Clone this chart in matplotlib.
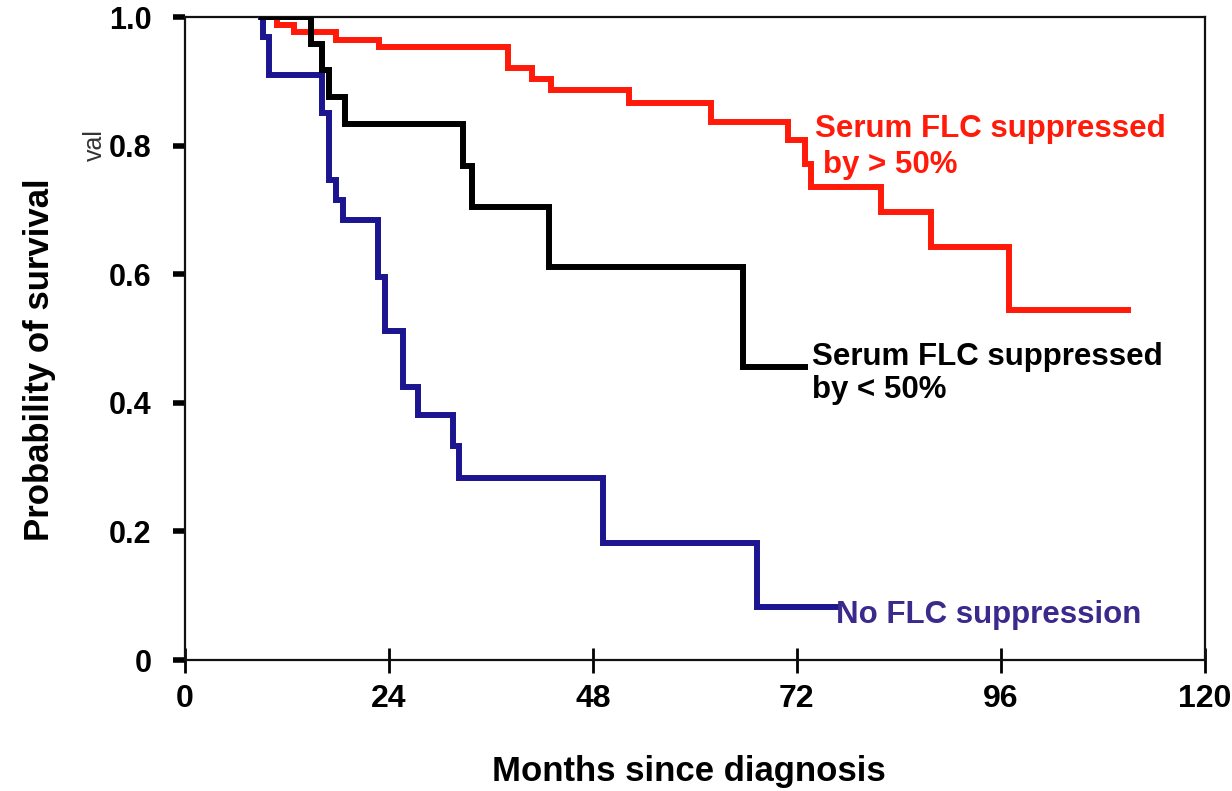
import matplotlib
matplotlib.use("Agg")
import matplotlib.pyplot as plt

plt.rcParams['font.family'] = ['Liberation Sans', 'DejaVu Sans']

# Kaplan-Meier survival estimates (months since diagnosis, probability)
red_t = [9.0, 10.8, 12.9, 17.8, 22.9, 38.0, 40.9, 43.1, 52.2, 61.9, 71.0, 72.9, 73.7, 81.9, 87.8, 96.9, 111.0]
red_s = [1.0, 0.988, 0.977, 0.964, 0.954, 0.921, 0.904, 0.886, 0.866, 0.837, 0.809, 0.772, 0.736, 0.697, 0.643, 0.544, 0.544]

black_t = [9.1, 14.9, 16.1, 17.0, 18.8, 32.7, 33.8, 42.9, 65.7, 73.0]
black_s = [1.0, 0.958, 0.917, 0.875, 0.833, 0.769, 0.705, 0.611, 0.456, 0.456]

blue_t = [9.0, 9.2, 9.9, 16.1, 17.0, 17.8, 18.6, 22.7, 23.5, 25.7, 27.4, 31.5, 32.3, 49.2, 67.3, 76.7]
blue_s = [1.0, 0.969, 0.91, 0.85, 0.746, 0.715, 0.684, 0.596, 0.511, 0.425, 0.381, 0.333, 0.283, 0.182, 0.083, 0.083]

x_ticks = [0, 24, 48, 72, 96, 120]
y_ticks = [0, 0.2, 0.4, 0.6, 0.8, 1.0]
y_tick_labels = ['0', '0.2', '0.4', '0.6', '0.8', '1.0']

RED = '#ff1a0a'
BLACK = '#000000'
BLUE = '#1c1590'
BLUE_TEXT = '#3b2a8c'

fig = plt.figure(figsize=(12.32, 7.91), dpi=100)
ax = fig.add_axes([0.150, 0.1656, 0.828, 0.8129])

lw = 4.3
ax.step(red_t, red_s, where='post', color=RED, lw=lw, solid_joinstyle='miter', zorder=3)
ax.step(blue_t, blue_s, where='post', color=BLUE, lw=lw, solid_joinstyle='miter', zorder=3)
ax.step(black_t, black_s, where='post', color=BLACK, lw=lw, solid_joinstyle='miter', zorder=4)

ax.set_xlim(0, 120)
ax.set_ylim(0, 1.0)

for sp in ax.spines.values():
    sp.set_linewidth(1.6)
    sp.set_color('#111111')

ax.set_xticks(x_ticks)
ax.set_xticklabels([str(v) for v in x_ticks], fontsize=23, fontweight='bold')
ax.set_yticks(y_ticks)
ax.set_yticklabels(y_tick_labels, fontsize=22, fontweight='bold')
ax.tick_params(axis='x', direction='inout', length=18, width=2, pad=8)
ax.tick_params(axis='y', direction='out', length=9, width=4, pad=15)

# Axis titles placed in figure coordinates
fig.text(689 / 1232, 1 - 771 / 791, 'Months since diagnosis', fontsize=25,
         fontweight='bold', ha='center', va='center')
fig.text(40 / 1232, 1 - 360 / 791, 'Probability of survival', fontsize=25,
         fontweight='bold', rotation=90, ha='center', va='center')

fig.text(95 / 1232, 1 - 145 / 791, 'val', rotation=90, fontsize=18,
         color='#333333', ha='center', va='center')

tkw = dict(fontsize=22.5, fontweight='bold', va='baseline', ha='left')
ax.text(74.1, 0.813, 'Serum FLC suppressed', color=RED, **tkw)
ax.text(75.1, 0.757, 'by > 50%', color=RED, **tkw)
ax.text(73.8, 0.459, 'Serum FLC suppressed', color=BLACK, **tkw)
ax.text(73.8, 0.407, 'by < 50%', color=BLACK, **tkw)
ax.text(76.6, 0.0575, 'No FLC suppression', color=BLUE_TEXT, **tkw)

fig.savefig('out.png', dpi=100, facecolor='white')
